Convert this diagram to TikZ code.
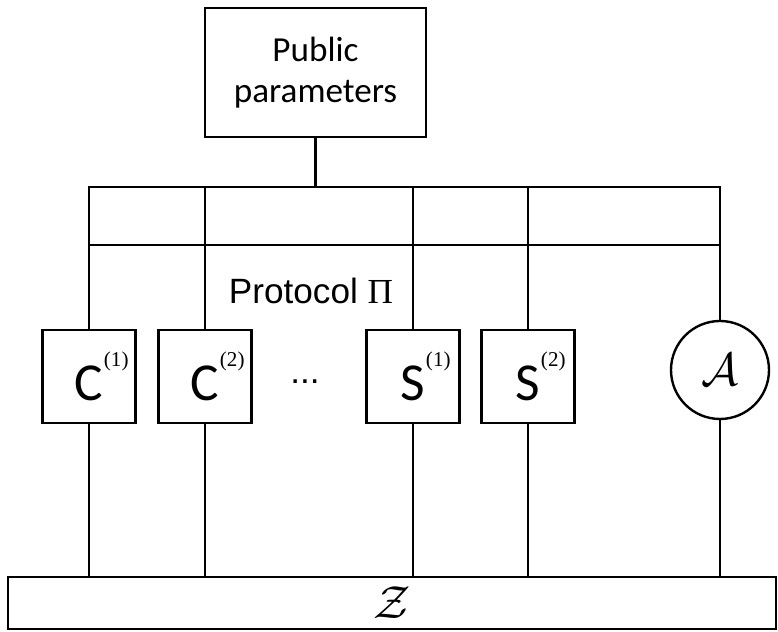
\documentclass[tikz,border=0pt]{standalone}
\usepackage{fontspec}
\setmainfont{Carlito}
\newfontfamily\arialfont{Liberation Sans}
\newfontfamily\timesfont{Liberation Serif}
\usetikzlibrary{calc,positioning}
\newcommand{\partyname}[2]{#1\rlap{\hspace{0.5pt}\raisebox{24pt}{\timesfont\fontsize{15}{17}\selectfont(#2)}}}
\newcommand{\bigcal}[1]{\scalebox{3.3}{$\mathcal{#1}$}}
\tikzset{
    wire/.style={line width=1.7pt},
    pubbox/.style={
        draw,line width=1.7pt,
        minimum width=5.525cm,minimum height=3.225cm,
        align=center,
        font=\fontsize{25}{29}\selectfont
    },
    party/.style={
        draw,line width=1.7pt,
        minimum width=2.325cm,minimum height=2.325cm,inner sep=0pt,
        font=\fontsize{38}{40}\selectfont
    },
    adversary/.style={
        draw,circle,line width=1.7pt,
        minimum size=2.45cm,inner sep=0pt
    },
    envbox/.style={
        draw,line width=1.7pt,
        minimum width=19.2cm,minimum height=1.3cm,inner sep=0pt
    }
}
\begin{document}
\begin{tikzpicture}
\useasboundingbox (0,0) rectangle (19.45,15.8);
\node[pubbox] (pp) at (7.8875,13.9875) {Public\\parameters};
\node[envbox] (env) at (9.8,0.725) {\bigcal{Z}};
\foreach \name/\x/\lbl/\k in {c1/2.225/C/1,c2/5.125/C/2,s1/10.325/S/1,s2/13.2/S/2}
    \node[party] (\name) at (\x,6.3875) {\partyname{\lbl}{\k}};
\node[adversary] (adv) at (18.0,6.55) {\bigcal{A}};
\node[font=\arialfont\fontsize{25}{28}\selectfont] (proto) at (7.775,8.525) {Protocol {\timesfont Π}};
\node[font=\arialfont\fontsize{25}{28}\selectfont,anchor=base] (dots) at (7.625,6.2) {...};
\coordinate (bustop) at (0,11.125);
\coordinate (busmid) at (0,9.675);
\draw[wire] (pp.south) -- (pp.south |- bustop);
\draw[wire] (c1.north) -- (c1.north |- bustop) -- (adv.north |- bustop) -- (adv.north);
\draw[wire] (c1.north |- busmid) -- (adv.north |- busmid);
\foreach \name in {c2,s1,s2}
    \draw[wire] (\name.north |- bustop) -- (\name.north);
\foreach \name in {c1,c2,s1,s2,adv}
    \draw[wire] (\name.south) -- (\name.south |- env.north);
\end{tikzpicture}
\end{document}
